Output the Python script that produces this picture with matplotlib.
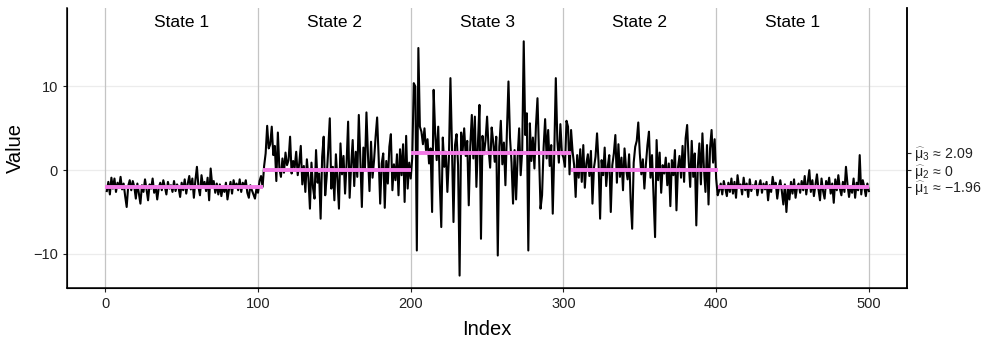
import matplotlib
matplotlib.use("Agg")
import matplotlib.pyplot as plt
import numpy as np

plt.rcParams['font.family'] = ['Liberation Sans', 'DejaVu Sans']
plt.rcParams['mathtext.fontset'] = 'custom'
plt.rcParams['mathtext.rm'] = 'Liberation Sans'
plt.rcParams['mathtext.it'] = 'Liberation Sans'
plt.rcParams['mathtext.fallback'] = 'cm'

# observed series, split by regime
state1_first = [
    -2.5, -1.4, -2.9, -0.9, -2.2, -1.0, -2.6, -1.5, -2.1, -0.8,
    -2.3, -1.6, -3.1, -4.4, -1.9, -1.2, -2.4, -1.3, -2.0, -3.4,
    -1.6, -2.8, -4.0, -1.8, -2.6, -1.1, -2.3, -3.6, -1.7, -2.2,
    -1.0, -2.7, -1.9, -3.5, -2.1, -1.5, -2.4, -1.2, -2.0, -2.9,
    -1.4, -2.2, -1.8, -2.6, -1.3, -2.5, -1.7, -2.1, -3.2, -1.5,
    -2.4, -1.1, -2.8, -1.6, -0.7, -2.3, -1.0, -3.3, -1.2, 0.4,
    -2.0, -3.0, -0.6, -1.9, -1.4, -2.5, -0.9, -3.6, 0.2, -1.8,
    -1.3, -2.7, -1.6, -2.9, -1.7, -3.1, -2.0, -2.6, -1.5, -3.5,
    -2.3, -1.4, -2.8, -1.2, -2.1, -1.6, -2.4, -1.1, -2.6, -1.5,
    -2.0, -1.2, -2.7, -3.3, -1.8, -2.4, -2.9, -3.4, -2.2, -2.7,
    -1.3, -0.7, -2.0,
]
state2_first = [
    0.5, 2.0, 5.3, 2.6, 3.1, 5.2, 1.8,
    2.9, -1.3, 4.5, 0.2, -0.8, 1.4, -0.3, 2.1, 0.6, 1.2,
    4.0, -0.4, 1.1, 0.3, 2.2, -0.6, 0.8, 2.9, -1.7, 0.5,
    -2.6, 1.3, -0.9, -4.6, 0.9, -2.1, -3.4, 2.4, -1.5, -0.4,
    -5.8, 1.6, 4.0, -3.0, -0.7, 2.5, 6.2, -2.2, 0.4, -3.6,
    1.9, -1.1, -4.6, 3.2, -0.5, 1.7, -2.8, 0.8, 5.8, -3.3,
    0.6, 3.6, -1.9, 2.2, -0.8, 6.6, 1.3, -4.4, 2.7, 0.1,
    6.9, 1.8, -2.5, 3.4, -0.9, 1.2, 4.0, 6.3, 1.5, -4.0,
    0.8, 2.0, -4.5, 1.1, -1.6, 2.8, 4.3, -2.4, 0.7, -1.2,
    1.9, -3.0, 2.5, -0.6, 3.1, -3.8, 4.1, -2.2, 0.9, -1.0,
]
state3 = [
    1.5, 10.4, 10.0, -9.6, 14.6, 5.2, 4.6, 3.1, 5.0, 2.4,
    3.7, 0.8, 2.6, -5.0, 9.6, 4.4, 1.2, 5.2, -1.5, -6.8,
    3.9, 0.4, 2.2, -2.6, 1.5, 11.0, 2.8, -6.2, 3.0, 4.3,
    0.6, -12.6, 4.5, 2.3, 5.0, 1.7, 3.5, -4.2, 2.9, 6.6,
    1.4, 6.4, -2.0, 3.2, 7.8, -8.2, 4.1, 1.9, 3.6, 6.4,
    2.5, 0.3, 5.1, 3.4, 1.0, 4.0, -10.2, 2.8, 5.9, 0.7,
    3.3, -1.8, 4.7, 10.6, 3.9, 0.9, -4.0, 2.4, -3.5, 1.6,
    5.0, -0.6, 2.3, 15.4, 4.2, 6.8, -9.6, 5.6, 1.1, 3.9,
    0.2, 5.3, 8.6, 1.8, -4.6, -3.0, 2.7, 6.1, 1.4, 4.8,
    0.5, 3.0, -5.2, 2.2, 11.0, 3.6, 0.9, 5.5, 2.0, 1.5,
    0.4, 5.9, 5.2, -0.5, 4.8,
]
state2_second = [
    2.2, 0.6, -3.2, 1.8, -0.9, 2.5, -1.4, 3.0, -2.1, 0.8,
    1.9, -0.7, 2.3, -4.0, 0.3, 1.6, 4.4, 0.9, -5.8, 1.2,
    -0.6, 2.7, -1.9, 0.4, 1.8, -5.0, 0.6, 2.0, 4.2, -1.5,
    3.1, -0.8, 1.5, -2.4, 2.6, 0.2, -1.1, 1.9, -3.6, -7.0,
    0.9, 2.8, 3.5, 5.7, 2.0, -0.5, 1.3, -2.2, 0.7, 3.0,
    4.6, -0.9, 1.8, -3.1, -8.0, 3.6, -1.2, 2.1, -2.7, 0.6,
    -0.4, 1.5, -1.8, 0.8, -4.3, 1.2, -0.6, 2.4, -4.8, 0.3,
    1.7, -0.9, 2.9, -1.4, 3.8, 5.4, 1.1, -2.0, 3.5, -0.8,
    2.0, -6.6, 0.5, 3.2, -1.7, 4.4, 0.2, -2.6, 3.0, -4.1,
    2.6, 4.8, 0.9, 3.7, -1.0, -3.0,
]
state1_second = [
    -2.4, -1.6, -2.9, -1.3, -2.2, -3.1, -1.5, -2.6, -1.0, -2.8,
    -1.4, -3.3, -0.6, -2.1, -1.7, -2.9, -0.9, -2.4, -1.6, -3.2,
    -1.1, -2.5, -1.8, -2.2, -1.3, -3.0, -1.9, -1.2, -2.7, -1.6,
    -2.3, -1.4, -3.6, -1.8, -2.6, -0.8, -2.1, -1.5, -3.4, -2.0,
    -1.2, -2.5, -4.1, -1.7, -5.0, -2.2, -3.5, -1.4, -2.8, -1.1,
    -3.3, -2.0, -1.6, -2.7, -1.3, -2.4, -0.7, -2.9, -1.5, 0.0,
    -2.6, -1.2, -3.1, -1.8, -0.5, -2.3, -3.6, -1.0, -2.5, -3.4,
    -1.3, -2.1, -0.9, -2.8, -1.6, -3.9, -1.1, -2.4, -0.6, -2.2,
    -3.0, -1.4, -2.6, 0.4, -1.7, -3.2, -1.9, -2.7, -1.0, -3.3,
    -1.5, -2.4, 1.8, -2.9, -1.2, -2.0, -3.1, -1.6, -2.5,
]

# fitted regimes
seg_bounds = [0, 103, 200, 305, 401, 500]
seg_means = [-1.96, 0.0, 2.09, 0.0, -1.96]
state_names = ['State 1', 'State 2', 'State 3', 'State 2', 'State 1']
state_label_x = [50, 150, 250, 350, 450]
mu_values = [2.09, 0.0, -1.96]
mu_labels = [r'$\widehat{\mathrm{\mu}}_3\,\approx\,2.09$',
             r'$\widehat{\mathrm{\mu}}_2\,\approx\,0$',
             r'$\widehat{\mathrm{\mu}}_1\,\approx\,{-}1.96$']

values = np.array(state1_first + state2_first + state3 + state2_second + state1_second)
index = np.arange(1, len(values) + 1)

fig = plt.figure(figsize=(9.87, 3.41), dpi=100)
ax = fig.add_axes([0.068, 0.155, 0.851, 0.822])

for v in [-10, 0, 10]:
    ax.axhline(v, color='#ececec', lw=0.9, zorder=0)
for v in range(0, 501, 100):
    ax.axvline(v, color='#c4c4c4', lw=0.9, zorder=0)

ax.plot(index, values, color='black', lw=1.5, zorder=2)
for x0, x1, m in zip(seg_bounds[:-1], seg_bounds[1:], seg_means):
    ax.hlines(m, x0, x1, color='#f27ae6', lw=2.8, zorder=3)

for x, name in zip(state_label_x, state_names):
    ax.text(x, 17.7, name, ha='center', va='center', fontsize=12.5)

ax.set_xlim(-25, 525)
ax.set_ylim(-14.1, 19.4)
ax.set_xticks(range(0, 501, 100))
ax.set_yticks([-10, 0, 10])
ax.set_yticklabels(['\u221210', '0', '10'])
ax.set_xlabel('Index', fontsize=14.5, labelpad=6)
ax.set_ylabel('Value', fontsize=14.5, labelpad=6)
ax.tick_params(labelsize=10.5, colors='#222222', length=3)
ax.spines['top'].set_visible(False)
for s in ['left', 'bottom', 'right']:
    ax.spines[s].set_linewidth(1.1)

ax2 = ax.twinx()
ax2.set_ylim(ax.get_ylim())
ax2.set_yticks(mu_values)
ax2.set_yticklabels(mu_labels)
ax2.tick_params(labelsize=10.2, length=3, pad=2, colors='#222222')
ax2.spines['top'].set_visible(False)
ax2.spines['right'].set_linewidth(1.1)

fig.savefig('out.png', dpi=100, facecolor='white')
